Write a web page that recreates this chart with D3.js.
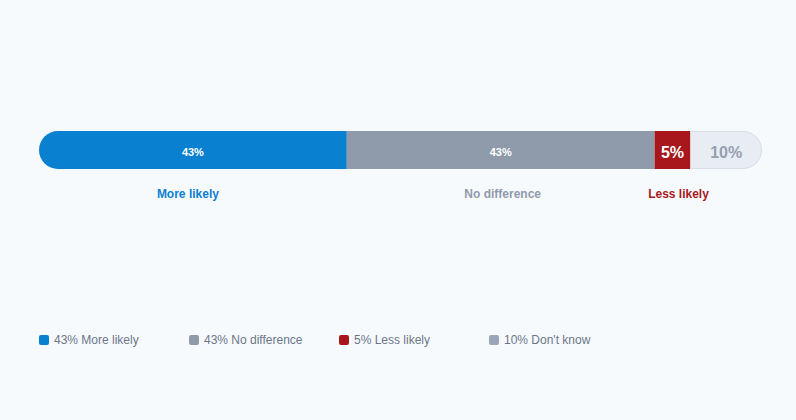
<!DOCTYPE html>
<html><head><meta charset="utf-8">
<script src="https://cdn.jsdelivr.net/npm/d3@7"></script>
<style>
html,body{margin:0;padding:0;background:#f7fafd;}
svg{display:block;font-family:"Liberation Sans",Arial,Helvetica,sans-serif;}
</style></head>
<body>
<svg id="c" width="796" height="420"></svg>
<script>
const categories = ["More likely", "No difference", "Less likely", "Don't know"];
const values = [43, 43, 5, 10];
const colors = ["#0a80d0", "#8f9bab", "#a8171c", "#e8edf4"];
const labelColors = ["#0a80d0", "#8f9bab", "#a8171c", null];
const valueTextColors = ["#ffffff", "#ffffff", "#ffffff", "#94a0b2"];
const legendColors = ["#0a80d0", "#8f9bab", "#a8171c", "#9aa6b8"];

const svg = d3.select("#c");
const W = 796, H = 420;
const left = 39, right = 762, barY = 131, barH = 38;
const total = d3.sum(values);
const x = d3.scaleLinear().domain([0, total]).range([left, right]);
let acc = 0;
const segs = values.map((v, i) => { const s = {i, v, c: categories[i], x0: acc, x1: acc + v}; acc += v; return s; });

svg.append("rect").attr("width", W).attr("height", H).attr("fill", "#f7fafd");

const defs = svg.append("defs");
defs.append("clipPath").attr("id", "barclip").append("rect")
  .attr("x", x(0)).attr("y", barY).attr("width", x(total) - x(0)).attr("height", barH)
  .attr("rx", barH / 2).attr("ry", barH / 2);

const g = svg.append("g").attr("clip-path", "url(#barclip)");
g.selectAll("rect.seg").data(segs).join("rect")
  .attr("class", "seg")
  .attr("x", d => x(d.x0)).attr("y", barY)
  .attr("width", d => x(d.x1) - x(d.x0)).attr("height", barH)
  .attr("fill", d => colors[d.i]);

const last = segs[segs.length - 1];
svg.append("path")
  .attr("d", () => {
    const x0 = x(last.x0), x1 = x(last.x1), r = barH / 2;
    return `M${x0},${barY + 0.5}H${x1 - r}A${r - 0.5},${r - 0.5} 0 0 1 ${x1 - r},${barY + barH - 0.5}H${x0}`;
  })
  .attr("fill", "none").attr("stroke", "#d9dfe8").attr("stroke-width", 1);

svg.selectAll("text.val").data(segs).join("text")
  .attr("class", "val")
  .attr("x", d => (x(d.x0) + x(d.x1)) / 2)
  .attr("y", barY + barH / 2 + 2)
  .attr("dy", "0.35em")
  .attr("text-anchor", "middle")
  .attr("font-weight", 700)
  .attr("font-size", d => d.v < 15 ? 16 : 11)
  .attr("fill", d => valueTextColors[d.i])
  .text(d => d.v + "%");

svg.selectAll("text.cat").data(segs.filter(d => labelColors[d.i])).join("text")
  .attr("class", "cat")
  .attr("x", d => (x(d.x0) + x(d.x1)) / 2 + (d.i === 2 ? 6 : (d.i === 0 ? -5 : 2)))
  .attr("y", 198)
  .attr("text-anchor", "middle")
  .attr("font-weight", 700)
  .attr("font-size", 12)
  .attr("fill", d => labelColors[d.i])
  .text(d => d.c);

const lg = svg.selectAll("g.leg").data(segs).join("g")
  .attr("class", "leg")
  .attr("transform", d => `translate(${39 + d.i * 150},340)`);
lg.append("rect").attr("x", 0).attr("y", -5).attr("width", 10).attr("height", 10)
  .attr("rx", 2).attr("fill", d => legendColors[d.i]);
lg.append("text").attr("x", 15).attr("y", 0).attr("dy", "0.35em")
  .attr("font-size", 12).attr("fill", "#6b7689")
  .text(d => `${d.v}% ${d.c}`);
</script>
</body></html>
